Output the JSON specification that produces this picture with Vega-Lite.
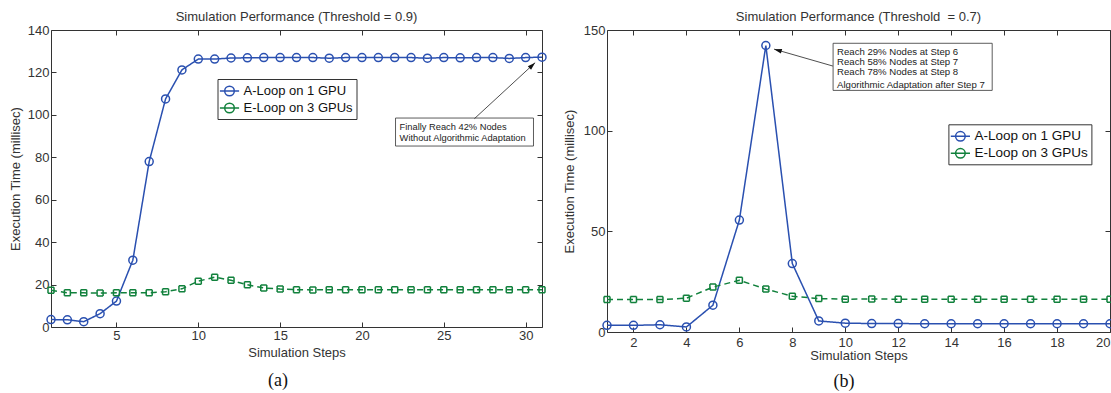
{
  "$schema": "https://vega.github.io/schema/vega-lite/v6.json",
  "padding": {"left": 8, "top": 10, "right": 0, "bottom": 0},
  "spacing": 12,
  "resolve": {"scale": {"color": "independent"}, "legend": {"color": "independent"}},
  "config": {
    "font": "Liberation Sans",
    "view": {"stroke": "#333", "strokeWidth": 1},
    "axis": {"grid": false, "domain": false, "tickColor": "#333", "labelColor": "#333", "labelFont": "Liberation Sans", "labelFontSize": 13, "titleFont": "Liberation Sans", "titleFontSize": 13, "titleFontWeight": "normal", "titleColor": "#333"},
    "title": {"font": "Liberation Sans", "fontSize": 13, "fontWeight": "normal", "color": "#333"}
  },
  "datasets": {
    "a": [
      {"step": 1, "series": "A-Loop on 1 GPU", "time": 3.5},
      {"step": 2, "series": "A-Loop on 1 GPU", "time": 3.4},
      {"step": 3, "series": "A-Loop on 1 GPU", "time": 2.5},
      {"step": 4, "series": "A-Loop on 1 GPU", "time": 6.3},
      {"step": 5, "series": "A-Loop on 1 GPU", "time": 12.2},
      {"step": 6, "series": "A-Loop on 1 GPU", "time": 31.5},
      {"step": 7, "series": "A-Loop on 1 GPU", "time": 78},
      {"step": 8, "series": "A-Loop on 1 GPU", "time": 107.5},
      {"step": 9, "series": "A-Loop on 1 GPU", "time": 121.2},
      {"step": 10, "series": "A-Loop on 1 GPU", "time": 126.3},
      {"step": 11, "series": "A-Loop on 1 GPU", "time": 126.3},
      {"step": 12, "series": "A-Loop on 1 GPU", "time": 126.8},
      {"step": 13, "series": "A-Loop on 1 GPU", "time": 126.9},
      {"step": 14, "series": "A-Loop on 1 GPU", "time": 127},
      {"step": 15, "series": "A-Loop on 1 GPU", "time": 127},
      {"step": 16, "series": "A-Loop on 1 GPU", "time": 127},
      {"step": 17, "series": "A-Loop on 1 GPU", "time": 127},
      {"step": 18, "series": "A-Loop on 1 GPU", "time": 126.7},
      {"step": 19, "series": "A-Loop on 1 GPU", "time": 127},
      {"step": 20, "series": "A-Loop on 1 GPU", "time": 127},
      {"step": 21, "series": "A-Loop on 1 GPU", "time": 127},
      {"step": 22, "series": "A-Loop on 1 GPU", "time": 127},
      {"step": 23, "series": "A-Loop on 1 GPU", "time": 127},
      {"step": 24, "series": "A-Loop on 1 GPU", "time": 126.7},
      {"step": 25, "series": "A-Loop on 1 GPU", "time": 127},
      {"step": 26, "series": "A-Loop on 1 GPU", "time": 126.9},
      {"step": 27, "series": "A-Loop on 1 GPU", "time": 127},
      {"step": 28, "series": "A-Loop on 1 GPU", "time": 127},
      {"step": 29, "series": "A-Loop on 1 GPU", "time": 126.6},
      {"step": 30, "series": "A-Loop on 1 GPU", "time": 127},
      {"step": 31, "series": "A-Loop on 1 GPU", "time": 127.2},
      {"step": 1, "series": "E-Loop on 3 GPUs", "time": 17.3},
      {"step": 2, "series": "E-Loop on 3 GPUs", "time": 16.1},
      {"step": 3, "series": "E-Loop on 3 GPUs", "time": 16.1},
      {"step": 4, "series": "E-Loop on 3 GPUs", "time": 16.0},
      {"step": 5, "series": "E-Loop on 3 GPUs", "time": 16.1},
      {"step": 6, "series": "E-Loop on 3 GPUs", "time": 16.2},
      {"step": 7, "series": "E-Loop on 3 GPUs", "time": 16.1},
      {"step": 8, "series": "E-Loop on 3 GPUs", "time": 16.6},
      {"step": 9, "series": "E-Loop on 3 GPUs", "time": 18.0},
      {"step": 10, "series": "E-Loop on 3 GPUs", "time": 21.6},
      {"step": 11, "series": "E-Loop on 3 GPUs", "time": 23.5},
      {"step": 12, "series": "E-Loop on 3 GPUs", "time": 22.0},
      {"step": 13, "series": "E-Loop on 3 GPUs", "time": 19.9},
      {"step": 14, "series": "E-Loop on 3 GPUs", "time": 18.4},
      {"step": 15, "series": "E-Loop on 3 GPUs", "time": 17.9},
      {"step": 16, "series": "E-Loop on 3 GPUs", "time": 17.6},
      {"step": 17, "series": "E-Loop on 3 GPUs", "time": 17.5},
      {"step": 18, "series": "E-Loop on 3 GPUs", "time": 17.6},
      {"step": 19, "series": "E-Loop on 3 GPUs", "time": 17.6},
      {"step": 20, "series": "E-Loop on 3 GPUs", "time": 17.6},
      {"step": 21, "series": "E-Loop on 3 GPUs", "time": 17.6},
      {"step": 22, "series": "E-Loop on 3 GPUs", "time": 17.6},
      {"step": 23, "series": "E-Loop on 3 GPUs", "time": 17.6},
      {"step": 24, "series": "E-Loop on 3 GPUs", "time": 17.6},
      {"step": 25, "series": "E-Loop on 3 GPUs", "time": 17.6},
      {"step": 26, "series": "E-Loop on 3 GPUs", "time": 17.6},
      {"step": 27, "series": "E-Loop on 3 GPUs", "time": 17.6},
      {"step": 28, "series": "E-Loop on 3 GPUs", "time": 17.6},
      {"step": 29, "series": "E-Loop on 3 GPUs", "time": 17.6},
      {"step": 30, "series": "E-Loop on 3 GPUs", "time": 17.6},
      {"step": 31, "series": "E-Loop on 3 GPUs", "time": 17.6}
    ],
    "b": [
      {"step": 1, "series": "A-Loop on 1 GPU", "time": 3.3},
      {"step": 2, "series": "A-Loop on 1 GPU", "time": 3.3},
      {"step": 3, "series": "A-Loop on 1 GPU", "time": 3.6},
      {"step": 4, "series": "A-Loop on 1 GPU", "time": 2.5},
      {"step": 5, "series": "A-Loop on 1 GPU", "time": 13.3},
      {"step": 6, "series": "A-Loop on 1 GPU", "time": 55.6},
      {"step": 7, "series": "A-Loop on 1 GPU", "time": 142.3},
      {"step": 8, "series": "A-Loop on 1 GPU", "time": 34},
      {"step": 9, "series": "A-Loop on 1 GPU", "time": 5.5},
      {"step": 10, "series": "A-Loop on 1 GPU", "time": 4.4},
      {"step": 11, "series": "A-Loop on 1 GPU", "time": 4.2},
      {"step": 12, "series": "A-Loop on 1 GPU", "time": 4.2},
      {"step": 13, "series": "A-Loop on 1 GPU", "time": 4.1},
      {"step": 14, "series": "A-Loop on 1 GPU", "time": 4.1},
      {"step": 15, "series": "A-Loop on 1 GPU", "time": 4.1},
      {"step": 16, "series": "A-Loop on 1 GPU", "time": 4.1},
      {"step": 17, "series": "A-Loop on 1 GPU", "time": 4.1},
      {"step": 18, "series": "A-Loop on 1 GPU", "time": 4.1},
      {"step": 19, "series": "A-Loop on 1 GPU", "time": 4.1},
      {"step": 20, "series": "A-Loop on 1 GPU", "time": 4.1},
      {"step": 1, "series": "E-Loop on 3 GPUs", "time": 16.1},
      {"step": 2, "series": "E-Loop on 3 GPUs", "time": 16.1},
      {"step": 3, "series": "E-Loop on 3 GPUs", "time": 16.1},
      {"step": 4, "series": "E-Loop on 3 GPUs", "time": 16.8},
      {"step": 5, "series": "E-Loop on 3 GPUs", "time": 22.3},
      {"step": 6, "series": "E-Loop on 3 GPUs", "time": 25.7},
      {"step": 7, "series": "E-Loop on 3 GPUs", "time": 21.3},
      {"step": 8, "series": "E-Loop on 3 GPUs", "time": 17.8},
      {"step": 9, "series": "E-Loop on 3 GPUs", "time": 16.6},
      {"step": 10, "series": "E-Loop on 3 GPUs", "time": 16.3},
      {"step": 11, "series": "E-Loop on 3 GPUs", "time": 16.4},
      {"step": 12, "series": "E-Loop on 3 GPUs", "time": 16.3},
      {"step": 13, "series": "E-Loop on 3 GPUs", "time": 16.3},
      {"step": 14, "series": "E-Loop on 3 GPUs", "time": 16.3},
      {"step": 15, "series": "E-Loop on 3 GPUs", "time": 16.3},
      {"step": 16, "series": "E-Loop on 3 GPUs", "time": 16.3},
      {"step": 17, "series": "E-Loop on 3 GPUs", "time": 16.3},
      {"step": 18, "series": "E-Loop on 3 GPUs", "time": 16.3},
      {"step": 19, "series": "E-Loop on 3 GPUs", "time": 16.3},
      {"step": 20, "series": "E-Loop on 3 GPUs", "time": 16.3}
    ],
    "aBox": [{"x": 22.05, "x2": 30.48, "y": 85.3, "y2": 98.5}],
    "aText": [
      {"x": 22.3, "y": 94.3, "text": "Finally Reach 42% Nodes"},
      {"x": 22.3, "y": 89.1, "text": "Without Algorithmic Adaptation"}
    ],
    "aArrow": [{"x": 26.87, "y": 98.2, "x2": 30.58, "y2": 124.6}],
    "bBox": [{"x": 9.54, "x2": 15.55, "y": 120.0, "y2": 143.4}],
    "bText": [
      {"x": 9.69, "y": 139.2, "text": "Reach 29% Nodes at Step 6"},
      {"x": 9.69, "y": 134.0, "text": "Reach 58% Nodes at Step 7"},
      {"x": 9.69, "y": 128.9, "text": "Reach 78% Nodes at Step 8"},
      {"x": 9.69, "y": 122.6, "text": "Algorithmic Adaptation after Step 7"}
    ],
    "bArrow": [{"x": 9.53, "y": 132.1, "x2": 7.31, "y2": 140.5}]
  },
  "hconcat": [
    {
      "width": 491,
      "height": 297,
      "title": {"text": "Simulation Performance (Threshold = 0.9)", "offset": 0},
      "resolve": {"axis": {"x": "independent", "y": "independent"}},
      "layer": [
        {
          "data": {"name": "a"},
          "mark": {"type": "line", "strokeWidth": 1.5},
          "encoding": {
            "x": {"field": "step", "type": "quantitative", "scale": {"domain": [1, 31], "nice": false, "zero": false},
                  "axis": {"orient": "bottom", "values": [5, 10, 15, 20, 25, 30], "title": "Simulation Steps", "tickSize": -5, "labelPadding": 7.5, "titlePadding": 4}},
            "y": {"field": "time", "type": "quantitative", "scale": {"domain": [0, 140], "nice": false},
                  "axis": {"orient": "left", "values": [0, 20, 40, 60, 80, 100, 120, 140], "title": "Execution Time (millisec)", "tickSize": -5, "labelPadding": 7, "titlePadding": 5}},
            "color": {"field": "series", "type": "nominal",
                      "scale": {"domain": ["A-Loop on 1 GPU", "E-Loop on 3 GPUs"], "range": ["#2a50b0", "#11813c"]},
                      "legend": {"orient": "none", "legendX": 166.5, "legendY": 49, "title": null, "padding": 3, "strokeColor": "#333", "fillColor": "white",
                                 "labelFont": "Liberation Sans", "labelFontSize": 13, "labelColor": "#111", "labelOffset": 5, "rowPadding": 0,
                                 "symbolType": "M-1.2,0H1.2M0.6,0A0.6,0.6 0 1,1 -0.6,0A0.6,0.6 0 1,1 0.6,0",
                                 "symbolSize": 256, "symbolStrokeWidth": 1.5, "symbolOpacity": 1, "symbolFillColor": "transparent"}},
            "strokeDash": {"field": "series", "type": "nominal", "scale": {"domain": ["A-Loop on 1 GPU", "E-Loop on 3 GPUs"], "range": [[1, 0], [6, 4]]}, "legend": null}
          }
        },
        {
          "data": {"name": "a"},
          "mark": {"type": "point", "filled": false, "strokeWidth": 1.5, "opacity": 1},
          "encoding": {
            "x": {"field": "step", "type": "quantitative", "axis": null},
            "y": {"field": "time", "type": "quantitative", "axis": null},
            "color": {"field": "series", "type": "nominal"},
            "shape": {"field": "series", "type": "nominal", "scale": {"domain": ["A-Loop on 1 GPU", "E-Loop on 3 GPUs"], "range": ["circle", "M-1,-1H1M1,-1V1M1,1H-1M-1,1V-1"]}, "legend": null},
            "size": {"field": "series", "type": "nominal", "scale": {"domain": ["A-Loop on 1 GPU", "E-Loop on 3 GPUs"], "range": [64, 36]}, "legend": null}
          }
        },
        {
          "data": {"name": "a"},
          "mark": {"type": "point", "opacity": 0},
          "encoding": {
            "x": {"field": "step", "type": "quantitative", "axis": {"orient": "top", "values": [5, 10, 15, 20, 25, 30], "labels": false, "title": null, "tickSize": -5}},
            "y": {"field": "time", "type": "quantitative", "axis": {"orient": "right", "values": [0, 20, 40, 60, 80, 100, 120, 140], "labels": false, "title": null, "tickSize": -5}}
          }
        },
        {
          "data": {"name": "a"},
          "mark": {"type": "point", "opacity": 0},
          "encoding": {
            "x": {"field": "step", "type": "quantitative", "axis": {"orient": "bottom", "labels": false, "ticks": false, "title": "(a)", "titleFont": "Liberation Serif", "titleFontSize": 18, "titleColor": "#111", "titlePadding": 44, "titleX": 226.5}},
            "y": {"field": "time", "type": "quantitative", "axis": null}
          }
        },
        {
          "data": {"name": "aBox"},
          "mark": {"type": "rect", "fill": "white", "stroke": "#333", "strokeWidth": 0.8},
          "encoding": {
            "x": {"field": "x", "type": "quantitative", "axis": null}, "x2": {"field": "x2"},
            "y": {"field": "y", "type": "quantitative", "axis": null}, "y2": {"field": "y2"}
          }
        },
        {
          "data": {"name": "aText"},
          "mark": {"type": "text", "align": "left", "baseline": "middle", "fontSize": 9.3, "font": "Liberation Sans", "color": "#222"},
          "encoding": {
            "x": {"field": "x", "type": "quantitative", "axis": null},
            "y": {"field": "y", "type": "quantitative", "axis": null},
            "text": {"field": "text"}
          }
        },
        {
          "data": {"name": "aArrow"},
          "mark": {"type": "rule", "color": "#222", "strokeWidth": 0.8},
          "encoding": {
            "x": {"field": "x", "type": "quantitative", "axis": null}, "x2": {"field": "x2"},
            "y": {"field": "y", "type": "quantitative", "axis": null}, "y2": {"field": "y2"}
          }
        },
        {
          "data": {"name": "aArrow"},
          "mark": {"type": "point", "shape": "M0,0L-0.8,2.6L0.8,2.6Z", "angle": 47, "size": 36, "filled": true, "color": "#111", "opacity": 1},
          "encoding": {
            "x": {"field": "x2", "type": "quantitative", "axis": null},
            "y": {"field": "y2", "type": "quantitative", "axis": null}
          }
        }
      ]
    },
    {
      "width": 503,
      "height": 302,
      "title": {"text": "Simulation Performance (Threshold\u00a0 = 0.7)", "offset": 0.5},
      "resolve": {"axis": {"x": "independent", "y": "independent"}},
      "layer": [
        {
          "data": {"name": "b"},
          "mark": {"type": "line", "strokeWidth": 1.5},
          "encoding": {
            "x": {"field": "step", "type": "quantitative", "scale": {"domain": [1, 20], "nice": false, "zero": false},
                  "axis": {"orient": "bottom", "values": [2, 4, 6, 8, 10, 12, 14, 16, 18, 20], "title": "Simulation Steps", "tickSize": -5, "labelPadding": 9, "titlePadding": 0.5}},
            "y": {"field": "time", "type": "quantitative", "scale": {"domain": [0, 150], "nice": false},
                  "axis": {"orient": "left", "values": [0, 50, 100, 150], "title": "Execution Time (millisec)", "tickSize": -5, "labelPadding": 7, "titlePadding": 7}},
            "color": {"field": "series", "type": "nominal",
                      "scale": {"domain": ["A-Loop on 1 GPU", "E-Loop on 3 GPUs"], "range": ["#2a50b0", "#11813c"]},
                      "legend": {"orient": "none", "legendX": 341.4, "legendY": 94.3, "title": null, "padding": 3, "strokeColor": "#333", "fillColor": "white",
                                 "labelFont": "Liberation Sans", "labelFontSize": 13.5, "labelColor": "#111", "labelOffset": 5, "rowPadding": 0,
                                 "symbolType": "M-1.2,0H1.2M0.6,0A0.6,0.6 0 1,1 -0.6,0A0.6,0.6 0 1,1 0.6,0",
                                 "symbolSize": 256, "symbolStrokeWidth": 1.5, "symbolOpacity": 1, "symbolFillColor": "transparent"}},
            "strokeDash": {"field": "series", "type": "nominal", "scale": {"domain": ["A-Loop on 1 GPU", "E-Loop on 3 GPUs"], "range": [[1, 0], [6, 4]]}, "legend": null}
          }
        },
        {
          "data": {"name": "b"},
          "mark": {"type": "point", "filled": false, "strokeWidth": 1.5, "opacity": 1},
          "encoding": {
            "x": {"field": "step", "type": "quantitative", "axis": null},
            "y": {"field": "time", "type": "quantitative", "axis": null},
            "color": {"field": "series", "type": "nominal"},
            "shape": {"field": "series", "type": "nominal", "scale": {"domain": ["A-Loop on 1 GPU", "E-Loop on 3 GPUs"], "range": ["circle", "M-1,-1H1M1,-1V1M1,1H-1M-1,1V-1"]}, "legend": null},
            "size": {"field": "series", "type": "nominal", "scale": {"domain": ["A-Loop on 1 GPU", "E-Loop on 3 GPUs"], "range": [64, 36]}, "legend": null}
          }
        },
        {
          "data": {"name": "b"},
          "mark": {"type": "point", "opacity": 0},
          "encoding": {
            "x": {"field": "step", "type": "quantitative", "axis": {"orient": "top", "values": [2, 4, 6, 8, 10, 12, 14, 16, 18, 20], "labels": false, "title": null, "tickSize": -5}},
            "y": {"field": "time", "type": "quantitative", "axis": {"orient": "right", "values": [0, 50, 100, 150], "labels": false, "title": null, "tickSize": -5}}
          }
        },
        {
          "data": {"name": "b"},
          "mark": {"type": "point", "opacity": 0},
          "encoding": {
            "x": {"field": "step", "type": "quantitative", "axis": {"orient": "bottom", "labels": false, "ticks": false, "title": "(b)", "titleFont": "Liberation Serif", "titleFontSize": 18, "titleColor": "#111", "titlePadding": 40, "titleX": 236.5}},
            "y": {"field": "time", "type": "quantitative", "axis": null}
          }
        },
        {
          "data": {"name": "bBox"},
          "mark": {"type": "rect", "fill": "white", "stroke": "#333", "strokeWidth": 0.8},
          "encoding": {
            "x": {"field": "x", "type": "quantitative", "axis": null}, "x2": {"field": "x2"},
            "y": {"field": "y", "type": "quantitative", "axis": null}, "y2": {"field": "y2"}
          }
        },
        {
          "data": {"name": "bText"},
          "mark": {"type": "text", "align": "left", "baseline": "middle", "fontSize": 9.6, "font": "Liberation Sans", "color": "#222"},
          "encoding": {
            "x": {"field": "x", "type": "quantitative", "axis": null},
            "y": {"field": "y", "type": "quantitative", "axis": null},
            "text": {"field": "text"}
          }
        },
        {
          "data": {"name": "bArrow"},
          "mark": {"type": "rule", "color": "#222", "strokeWidth": 0.8},
          "encoding": {
            "x": {"field": "x", "type": "quantitative", "axis": null}, "x2": {"field": "x2"},
            "y": {"field": "y", "type": "quantitative", "axis": null}, "y2": {"field": "y2"}
          }
        },
        {
          "data": {"name": "bArrow"},
          "mark": {"type": "point", "shape": "M0,0L-0.8,2.6L0.8,2.6Z", "angle": 286, "size": 36, "filled": true, "color": "#111", "opacity": 1},
          "encoding": {
            "x": {"field": "x2", "type": "quantitative", "axis": null},
            "y": {"field": "y2", "type": "quantitative", "axis": null}
          }
        }
      ]
    }
  ]
}
